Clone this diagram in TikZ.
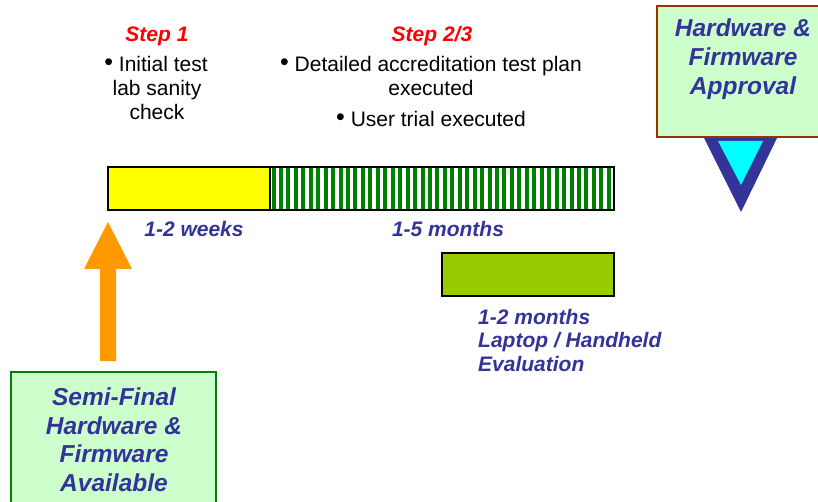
\documentclass[tikz,border=0pt]{standalone}
\usepackage{fontspec}
\setmainfont{Liberation Sans}
\definecolor{navy}{HTML}{333399}
\definecolor{stepred}{HTML}{FF0000}
\definecolor{paleg}{HTML}{CCFFCC}
\definecolor{darkg}{HTML}{008000}
\definecolor{brownb}{HTML}{993300}
\definecolor{limeg}{HTML}{99CC00}
\definecolor{orng}{HTML}{FF9900}
\definecolor{cyanf}{HTML}{00FFFF}
\definecolor{yel}{HTML}{FFFF00}
\newcommand{\bigbul}{{\fontsize{25}{24}\selectfont\raisebox{1.5pt}{\textbullet}}}
\begin{document}
\begin{tikzpicture}[x=1pt,y=-1pt,
  blk/.style={anchor=base,inner sep=0pt,font=\fontsize{21}{24}\selectfont},
  stepttl/.style={anchor=base,inner sep=0pt,text=stepred,font=\fontsize{21}{24}\selectfont\bfseries\itshape},
  blu/.style={anchor=base,inner sep=0pt,text=navy,font=\fontsize{21}{24}\selectfont\bfseries\itshape},
  bigblu/.style={anchor=base,inner sep=0pt,text=navy,font=\fontsize{24.5}{29}\selectfont\bfseries\itshape},
  bar/.style={draw=black,line width=2pt,inner sep=0pt,outer sep=0pt},
  box/.style={line width=2pt,fill=paleg,inner sep=0pt}]
\useasboundingbox (0,0) rectangle (818,502);
% bars
\node[bar,fill=yel,minimum width=162pt,minimum height=43pt] (ybar) at (189,188.5) {};
\begin{scope}
\clip (270,167) rectangle (614,210);
\foreach \i in {0,...,46} \fill[darkg] ({271.5+\i*7.45},167) rectangle ++(4,43);
\end{scope}
\node[bar,minimum width=344pt,minimum height=43pt] (sbar) at (442,188.5) {};
\node[bar,fill=limeg,minimum width=172pt,minimum height=43pt] (gbar) at (528,274.5) {};
% step texts
\node[stepttl] (s1) at (157,42) {Step 1};
\node[blk] (s1a) at (156,72) {\bigbul\ Initial test};
\node[blk] (s1b) at (157,96) {lab sanity};
\node[blk] (s1c) at (157,120) {check};
\node[stepttl] (s2) at (432,42) {Step 2/3};
\node[blk] (s2a) at (431,72) {\bigbul\ Detailed accreditation test plan};
\node[blk] (s2b) at (431,96) {executed};
\node[blk] (s2c) at (431,127) {\bigbul\ User trial executed};
% durations
\node[blu] (d1) at (194,237) {1-2 weeks};
\node[blu] (d2) at (448,237) {1-5 months};
\node[blu,anchor=base west] (d3) at (478,324) {1-2 months};
\node[blu,anchor=base west] (d4) at (478,347) {Laptop / Handheld};
\node[blu,anchor=base west] (d5) at (478,371) {Evaluation};
% orange arrow
\fill[orng] (108,222) -- (132,269) -- (116,269) -- (116,361) -- (100,361) -- (100,269) -- (84,269) -- cycle;
% left box
\node[box,draw=darkg,minimum width=205pt,minimum height=140pt] (lbox) at (113.5,442) {};
\node[bigblu] (l1) at (114,405) {Semi-Final};
\node[bigblu] (l2) at (114,434) {Hardware \&};
\node[bigblu] (l3) at (114,462) {Firmware};
\node[bigblu] (l4) at (114,491) {Available};
% approval triangle
\fill[navy] (703,136) -- (778,136) -- (741,212) -- cycle;
\fill[cyanf] (718,141) -- (763,141) -- (741,185) -- cycle;
% right box
\node[box,draw=brownb,minimum width=180pt,minimum height=131pt] (rbox) at (747,71.5) {};
\node[bigblu] (r1) at (743,37) {Hardware \&};
\node[bigblu] (r2) at (743,66) {Firmware};
\node[bigblu] (r3) at (743,95) {Approval};
\end{tikzpicture}
\end{document}
